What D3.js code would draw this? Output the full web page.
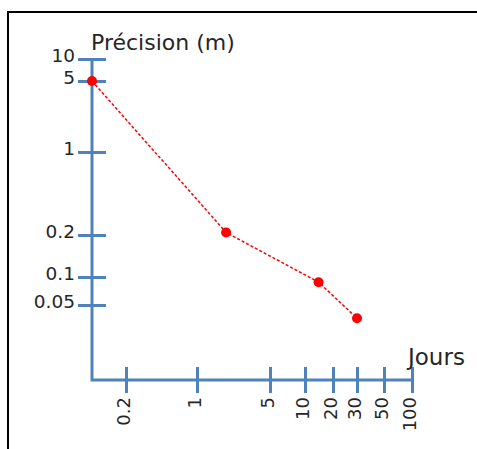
<!DOCTYPE html>
<html>
<head>
<meta charset="utf-8">
<script src="https://cdn.jsdelivr.net/npm/d3@7"></script>
<style>
    body { margin: 0; background: #fff; }
    text { font-family: "DejaVu Sans", sans-serif; fill: #262626; }
</style>
</head>
<body>
<svg id="fig" width="477" height="449"></svg>
<script>
// data
const days = [0.1, 1.9, 14, 30];
const precision = [5, 0.21, 0.088, 0.036];

// tick labels (the axes are hand-spaced, so each tick gets its own spot)
const xTicks = [0.2, 1, 5, 10, 20, 30, 50, 100];
const yTicks = [10, 5, 1, 0.2, 0.1, 0.05];

const axisColor = '#4f81bd';
const originX = 92, originY = 380;

let svg = d3.select('#fig');

// frame (only top and left edges show)
svg.append('path')
    .attr('d', 'M8,449 L8,12 L477,12')
    .attr('fill', 'none')
    .attr('stroke', '#000')
    .attr('stroke-width', 2);

// piecewise log scales
let xScale = d3.scaleLog()
    .domain([0.1, 0.2, 1, 5, 10, 20, 30, 50, 100])
    .range([originX, 126, 197, 270, 305, 333, 357, 384, 412]);

let yScale = d3.scaleLog()
    .domain([10, 5, 1, 0.2, 0.1, 0.05])
    .range([59, 81, 152, 235, 277, 305]);

// y axis
let yAxisSel = svg.append('g')
    .attr('transform', `translate(${originX},0)`)
    .call(d3.axisLeft(yScale).tickValues(yTicks).tickSize(14).tickFormat(d => d));
yAxisSel.select('.domain').remove();
yAxisSel.selectAll('.tick line')
    .attr('x1', 14)
    .attr('stroke', axisColor)
    .attr('stroke-width', 3);
yAxisSel.selectAll('.tick text')
    .attr('x', -17)
    .attr('y', -3)
    .attr('font-size', 18.5)
    .attr('font-family', null)
    .attr('fill', null);

// x axis
let xAxisSel = svg.append('g')
    .attr('transform', `translate(0,${originY})`)
    .call(d3.axisBottom(xScale).tickValues(xTicks).tickSize(13).tickFormat(d => d));
xAxisSel.select('.domain').remove();
xAxisSel.selectAll('.tick line')
    .attr('y1', -13)
    .attr('stroke', axisColor)
    .attr('stroke-width', 3);
xAxisSel.selectAll('.tick text')
    .attr('transform', 'rotate(-90)')
    .attr('x', -17)
    .attr('y', -3)
    .attr('dy', '0.35em')
    .attr('text-anchor', 'end')
    .attr('font-size', 18)
    .attr('font-family', null)
    .attr('fill', null);

// axis lines
svg.append('path')
    .attr('d', `M${originX},${yScale(10)} L${originX},${originY} L${xScale(100)},${originY}`)
    .attr('fill', 'none')
    .attr('stroke', axisColor)
    .attr('stroke-width', 3);

// axis titles
svg.append('text')
    .attr('x', 91)
    .attr('y', 50)
    .attr('font-size', 22)
    .text('Précision (m)');

svg.append('text')
    .attr('x', 408)
    .attr('y', 365)
    .attr('font-size', 23)
    .text('Jours');

// the series
const pts = days.map((d, i) => [d, precision[i]]);

svg.append('path')
    .datum(pts)
    .attr('d', d3.line().x(d => xScale(d[0])).y(d => yScale(d[1])))
    .attr('fill', 'none')
    .attr('stroke', 'red')
    .attr('stroke-width', 1.5)
    .attr('stroke-dasharray', '3,2');

svg.selectAll('circle.pt')
    .data(pts)
    .join('circle')
    .attr('class', 'pt')
    .attr('cx', d => xScale(d[0]))
    .attr('cy', d => yScale(d[1]))
    .attr('r', 5)
    .attr('fill', 'red');
</script>
</body>
</html>
